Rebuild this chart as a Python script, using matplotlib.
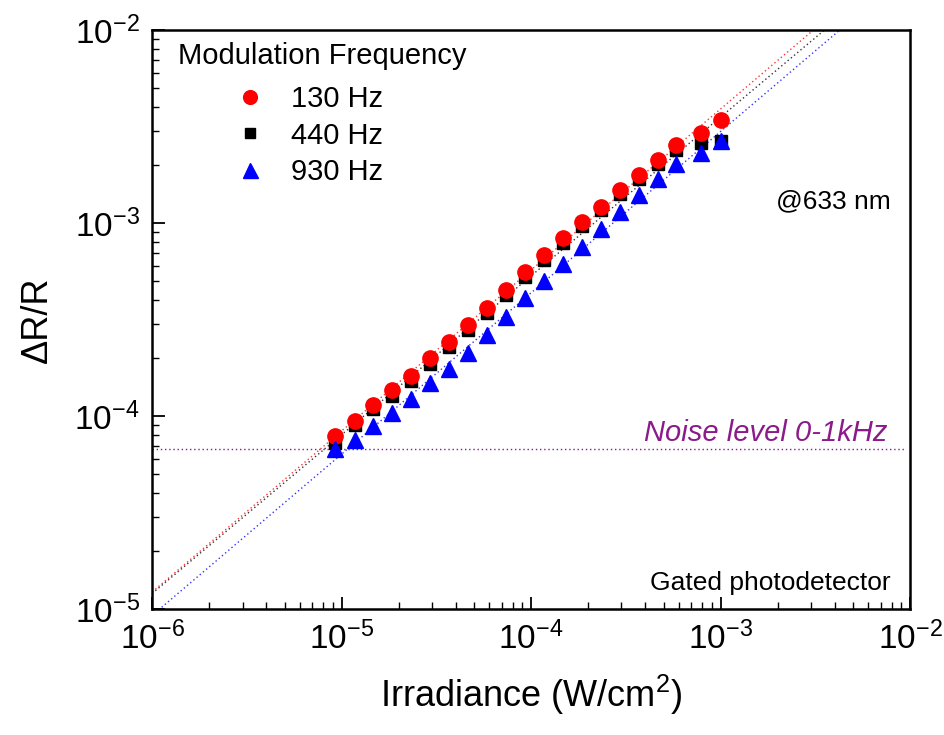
import matplotlib
matplotlib.use("Agg")
import matplotlib.pyplot as plt
from matplotlib.ticker import FuncFormatter
import numpy as np

plt.rcParams['font.family'] = ['Liberation Sans', 'DejaVu Sans']
plt.rcParams['mathtext.fontset'] = 'custom'
plt.rcParams['mathtext.rm'] = 'Liberation Sans'

# irradiance (W/cm^2)
irradiance = [9.2e-6, 1.17e-5, 1.47e-5, 1.85e-5, 2.33e-5, 2.93e-5, 3.69e-5,
              4.65e-5, 5.85e-5, 7.37e-5, 9.28e-5, 1.17e-4, 1.47e-4, 1.85e-4,
              2.33e-4, 2.93e-4, 3.69e-4, 4.65e-4, 5.85e-4, 7.9e-4, 1.0e-3]

# dR/R for each modulation frequency
dr_130 = [7.9e-5, 9.5e-5, 1.15e-4, 1.36e-4, 1.61e-4, 2.0e-4, 2.42e-4,
          2.96e-4, 3.63e-4, 4.5e-4, 5.57e-4, 6.82e-4, 8.35e-4, 1.02e-3,
          1.22e-3, 1.48e-3, 1.77e-3, 2.12e-3, 2.54e-3, 2.92e-3, 3.42e-3]
dr_440 = [7.3e-5, 9.0e-5, 1.09e-4, 1.28e-4, 1.52e-4, 1.86e-4, 2.28e-4,
          2.79e-4, 3.42e-4, 4.24e-4, 5.25e-4, 6.43e-4, 7.87e-4, 9.64e-4,
          1.17e-3, 1.41e-3, 1.69e-3, 2.02e-3, 2.39e-3, 2.6e-3, 2.65e-3]
dr_930 = [6.8e-5, 7.5e-5, 8.9e-5, 1.04e-4, 1.23e-4, 1.48e-4, 1.75e-4,
          2.12e-4, 2.63e-4, 3.26e-4, 4.09e-4, 5.0e-4, 6.13e-4, 7.51e-4,
          9.3e-4, 1.14e-3, 1.40e-3, 1.69e-3, 2.02e-3, 2.31e-3, 2.66e-3]

labels = ['130 Hz', '440 Hz', '930 Hz']
noise_level = 6.75e-5

fig = plt.figure(figsize=(9.45, 7.35), dpi=100)
ax = fig.add_axes([0.161, 0.171, 0.802, 0.788])
ax.set_xscale('log')
ax.set_yscale('log')
ax.set_xlim(1e-6, 1e-2)
ax.set_ylim(1e-5, 1e-2)

# linear fits in log-log space, extended over the whole axis
xfit = np.logspace(-6, -2, 50)
fit_styles = [(dr_130, 'red'), (dr_440, 'black'), (dr_930, 'blue')]
for ys, c in fit_styles:
    p = np.polyfit(np.log10(irradiance), np.log10(ys), 1)
    ax.plot(xfit, 10 ** np.polyval(p, np.log10(xfit)), ls=(0, (1, 2)),
            color=c, lw=1.0, alpha=0.8, zorder=2)

ax.axhline(noise_level, xmax=0.995, color='#8B1A8B', ls=(0, (1, 2)), lw=1.0, zorder=2)

h2, = ax.plot(irradiance, dr_440, 's', color='black', ms=8.5, ls='none', zorder=3)
h1, = ax.plot(irradiance, dr_130, 'o', color='red', ms=11, ls='none', zorder=4)
h3, = ax.plot(irradiance, dr_930, '^', color='blue', ms=12, ls='none', zorder=5)

ax.text(0.034, 0.955, 'Modulation Frequency', transform=ax.transAxes,
        fontsize=21, ha='left', va='center')
ax.legend([h1, h2, h3], labels, loc='upper left', bbox_to_anchor=(0.11, 0.905),
          frameon=False, fontsize=21, handlelength=1.0, handletextpad=0.9,
          labelspacing=0.29, borderaxespad=0, borderpad=0, markerscale=0.9)

ax.text(0.974, 0.705, '@633 nm', transform=ax.transAxes, fontsize=19,
        ha='right', va='center')
ax.text(0.974, 0.045, 'Gated photodetector', transform=ax.transAxes,
        fontsize=19, ha='right', va='center')
ax.text(0.97, 0.305, 'Noise level 0-1kHz', transform=ax.transAxes,
        fontsize=21, ha='right', va='center', style='italic', color='#8B1A8B')

ax.set_xlabel('Irradiance (W/cm$^2$)', fontsize=26, labelpad=12)
ax.set_ylabel('ΔR/R', fontsize=26, labelpad=14)

ax.xaxis.set_major_formatter(FuncFormatter(lambda v, pos: '$\\mathregular{10^{%d}}$' % round(np.log10(v))))
ax.yaxis.set_major_formatter(FuncFormatter(lambda v, pos: '$\\mathregular{10^{%d}}$' % round(np.log10(v))))

ax.tick_params(which='both', direction='in', top=False, right=False)
ax.tick_params(which='major', length=9, width=1.3, labelsize=24, pad=9)
ax.tick_params(which='minor', length=5, width=1.0)
for s in ax.spines.values():
    s.set_linewidth(1.8)

fig.savefig('out.png', dpi=100)
